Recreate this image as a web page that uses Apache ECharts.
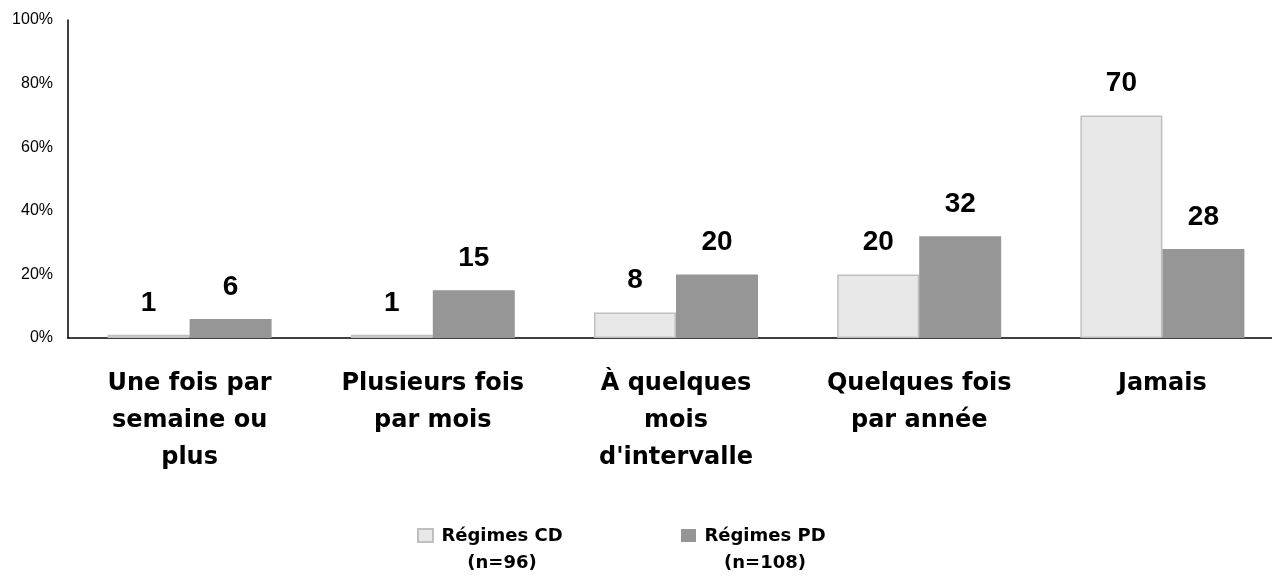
<!DOCTYPE html>
<html>
<head>
<meta charset="utf-8">
<script src="https://cdn.jsdelivr.net/npm/echarts@6/dist/echarts.min.js"></script>
<style>
  html, body { margin: 0; padding: 0; background: #fff; }
  #main { width: 1272px; height: 578px; }
</style>
</head>
<body>
<div id="main"></div>
<script>
var categories = ['Une fois par\nsemaine ou\nplus', 'Plusieurs fois\npar mois', "À quelques\nmois\nd'intervalle", 'Quelques fois\npar année', 'Jamais'];
var seriesNames = ['Régimes CD', 'Régimes PD'];
var seriesCounts = ['(n=96)', '(n=108)'];
var cdValues = [1, 1, 8, 20, 70];
var pdValues = [6, 15, 20, 32, 28];

var myChart = echarts.init(document.getElementById('main'));

// square drawn at the top of a taller icon box so it lines up with the first legend line
var legendIcon = 'path://M0,0h15v13h-15z M0,41 L0,41';

var valueLabel = {
    show: true,
    position: 'top',
    distance: 18,
    color: '#000',
    fontFamily: 'Liberation Sans',
    fontWeight: 'bold',
    fontSize: 28
};

option = {
    animation: false,
    backgroundColor: '#fff',
    grid: {
        left: 68,
        width: 1216,
        top: 20,
        bottom: 240,
        outerBoundsMode: 'none'
    },
    legend: {
        data: seriesNames,
        left: 412,
        top: 522,
        icon: legendIcon,
        itemWidth: 15,
        itemHeight: 41,
        itemGap: 115,
        formatter: function (name) {
            var i = seriesNames.indexOf(name);
            return '{a|' + name + '}\n{a|' + seriesCounts[i] + '}';
        },
        textStyle: {
            rich: {
                a: {
                    width: 128,
                    align: 'center',
                    lineHeight: 27,
                    fontSize: 18,
                    fontWeight: 'bold',
                    fontFamily: 'DejaVu Sans',
                    color: '#000'
                }
            }
        }
    },
    xAxis: {
        type: 'category',
        data: categories,
        axisLine: { show: true, lineStyle: { color: '#000', width: 1.5 } },
        axisTick: { show: false },
        axisLabel: {
            interval: 0,
            margin: 27,
            color: '#000',
            fontFamily: 'DejaVu Sans',
            fontWeight: 'bold',
            fontSize: 24,
            lineHeight: 37
        }
    },
    yAxis: {
        type: 'value',
        min: 0,
        max: 100,
        interval: 20,
        axisLine: { show: true, lineStyle: { color: '#000', width: 1.5 } },
        axisTick: { show: false },
        splitLine: { show: false },
        axisLabel: {
            margin: 15,
            color: '#000',
            fontFamily: 'Liberation Sans',
            fontSize: 16,
            formatter: '{value}%'
        }
    },
    series: [
        {
            name: seriesNames[0],
            type: 'bar',
            barWidth: 82,
            barGap: '0%',
            itemStyle: { color: '#e8e8e8', borderColor: '#bfbfbf', borderWidth: 1.5 },
            label: valueLabel,
            data: cdValues
        },
        {
            name: seriesNames[1],
            type: 'bar',
            barWidth: 82,
            barGap: '0%',
            itemStyle: { color: '#969696' },
            label: valueLabel,
            data: pdValues
        }
    ]
};
myChart.setOption(option);
</script>
</body>
</html>
